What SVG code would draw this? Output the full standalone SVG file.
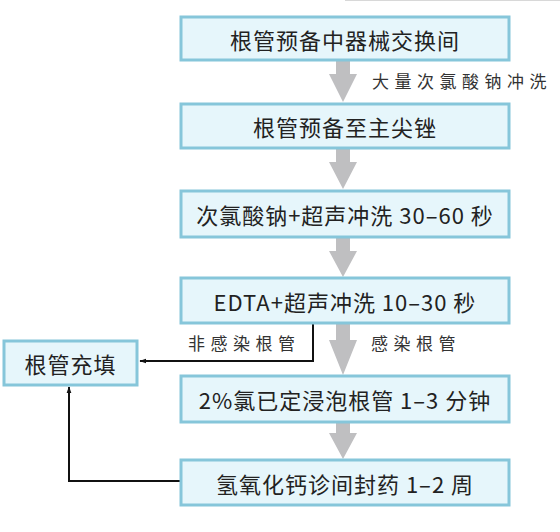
<svg xmlns="http://www.w3.org/2000/svg" width="560" height="532" viewBox="0 0 560 532">
<defs>
<style>
.box{fill:#e6f6fb;stroke:#86c6da;stroke-width:3}
.t{font-family:"Noto Sans CJK SC","Noto Sans",sans-serif;font-size:22px;fill:#222;text-anchor:middle;dominant-baseline:central;letter-spacing:1px}
.lbl{font-family:"Noto Sans CJK SC",sans-serif;font-size:17px;fill:#333;letter-spacing:5.5px;dominant-baseline:central}
.fa{fill:#bfbfc1}
.ln{fill:none;stroke:#111;stroke-width:2}
</style>
<marker id="ah" viewBox="0 0 10 10" refX="9" refY="5" markerWidth="7" markerHeight="7" orient="auto" markerUnits="userSpaceOnUse">
<path d="M0,1.5 L10,5 L0,8.5 Z" fill="#111"/>
</marker>
</defs>
<rect width="560" height="532" fill="#fff"/>
<line x1="345" y1="0.5" x2="560" y2="0.5" stroke="#d8d8d8" stroke-width="1"/>

<g id="connectors">
<path class="fa" d="M336,60 H350 V74 H357 L343,102 L329,74 H336 Z"/>
<path class="fa" d="M336,148 H350 V162 H357 L343,189 L329,162 H336 Z"/>
<path class="fa" d="M336,237 H350 V251 H357 L343,277 L329,251 H336 Z"/>
<path class="fa" d="M336,323 H350 V340 H357 L343,375 L329,340 H336 Z"/>
<path class="fa" d="M336,422 H350 V433 H357 L343,459 L329,433 H336 Z"/>
<path class="ln" d="M313,323 V361 H140" marker-end="url(#ah)"/>
<path class="ln" d="M180,481 H69 V387" marker-end="url(#ah)"/>
<text class="lbl" x="372" y="80">大量次氯酸钠冲洗</text>
<text class="lbl" x="188" y="342">非感染根管</text>
<text class="lbl" x="371" y="342">感染根管</text>
</g>

<g id="n1"><rect class="box" x="181" y="17" width="328" height="43"/><text class="t" x="345" y="38.5">根管预备中器械交换间</text></g>
<g id="n2"><rect class="box" x="181" y="104" width="328" height="44"/><text class="t" x="345" y="126">根管预备至主尖锉</text></g>
<g id="n3"><rect class="box" x="181" y="191" width="328" height="46"/><text class="t" x="345" y="214">次氯酸钠+超声冲洗 30–60 秒</text></g>
<g id="n4"><rect class="box" x="181" y="278" width="328" height="45"/><text class="t" x="345" y="300.5">EDTA+超声冲洗 10–30 秒</text></g>
<g id="n5"><rect class="box" x="181" y="376" width="328" height="46"/><text class="t" x="345" y="399">2%氯已定浸泡根管 1–3 分钟</text></g>
<g id="n6"><rect class="box" x="181" y="460" width="328" height="45"/><text class="t" x="345" y="482.5">氢氧化钙诊间封药 1–2 周</text></g>
<g id="n7"><rect class="box" x="4" y="341" width="133" height="44"/><text class="t" x="70.5" y="363" letter-spacing="2">根管充填</text></g>
</svg>
